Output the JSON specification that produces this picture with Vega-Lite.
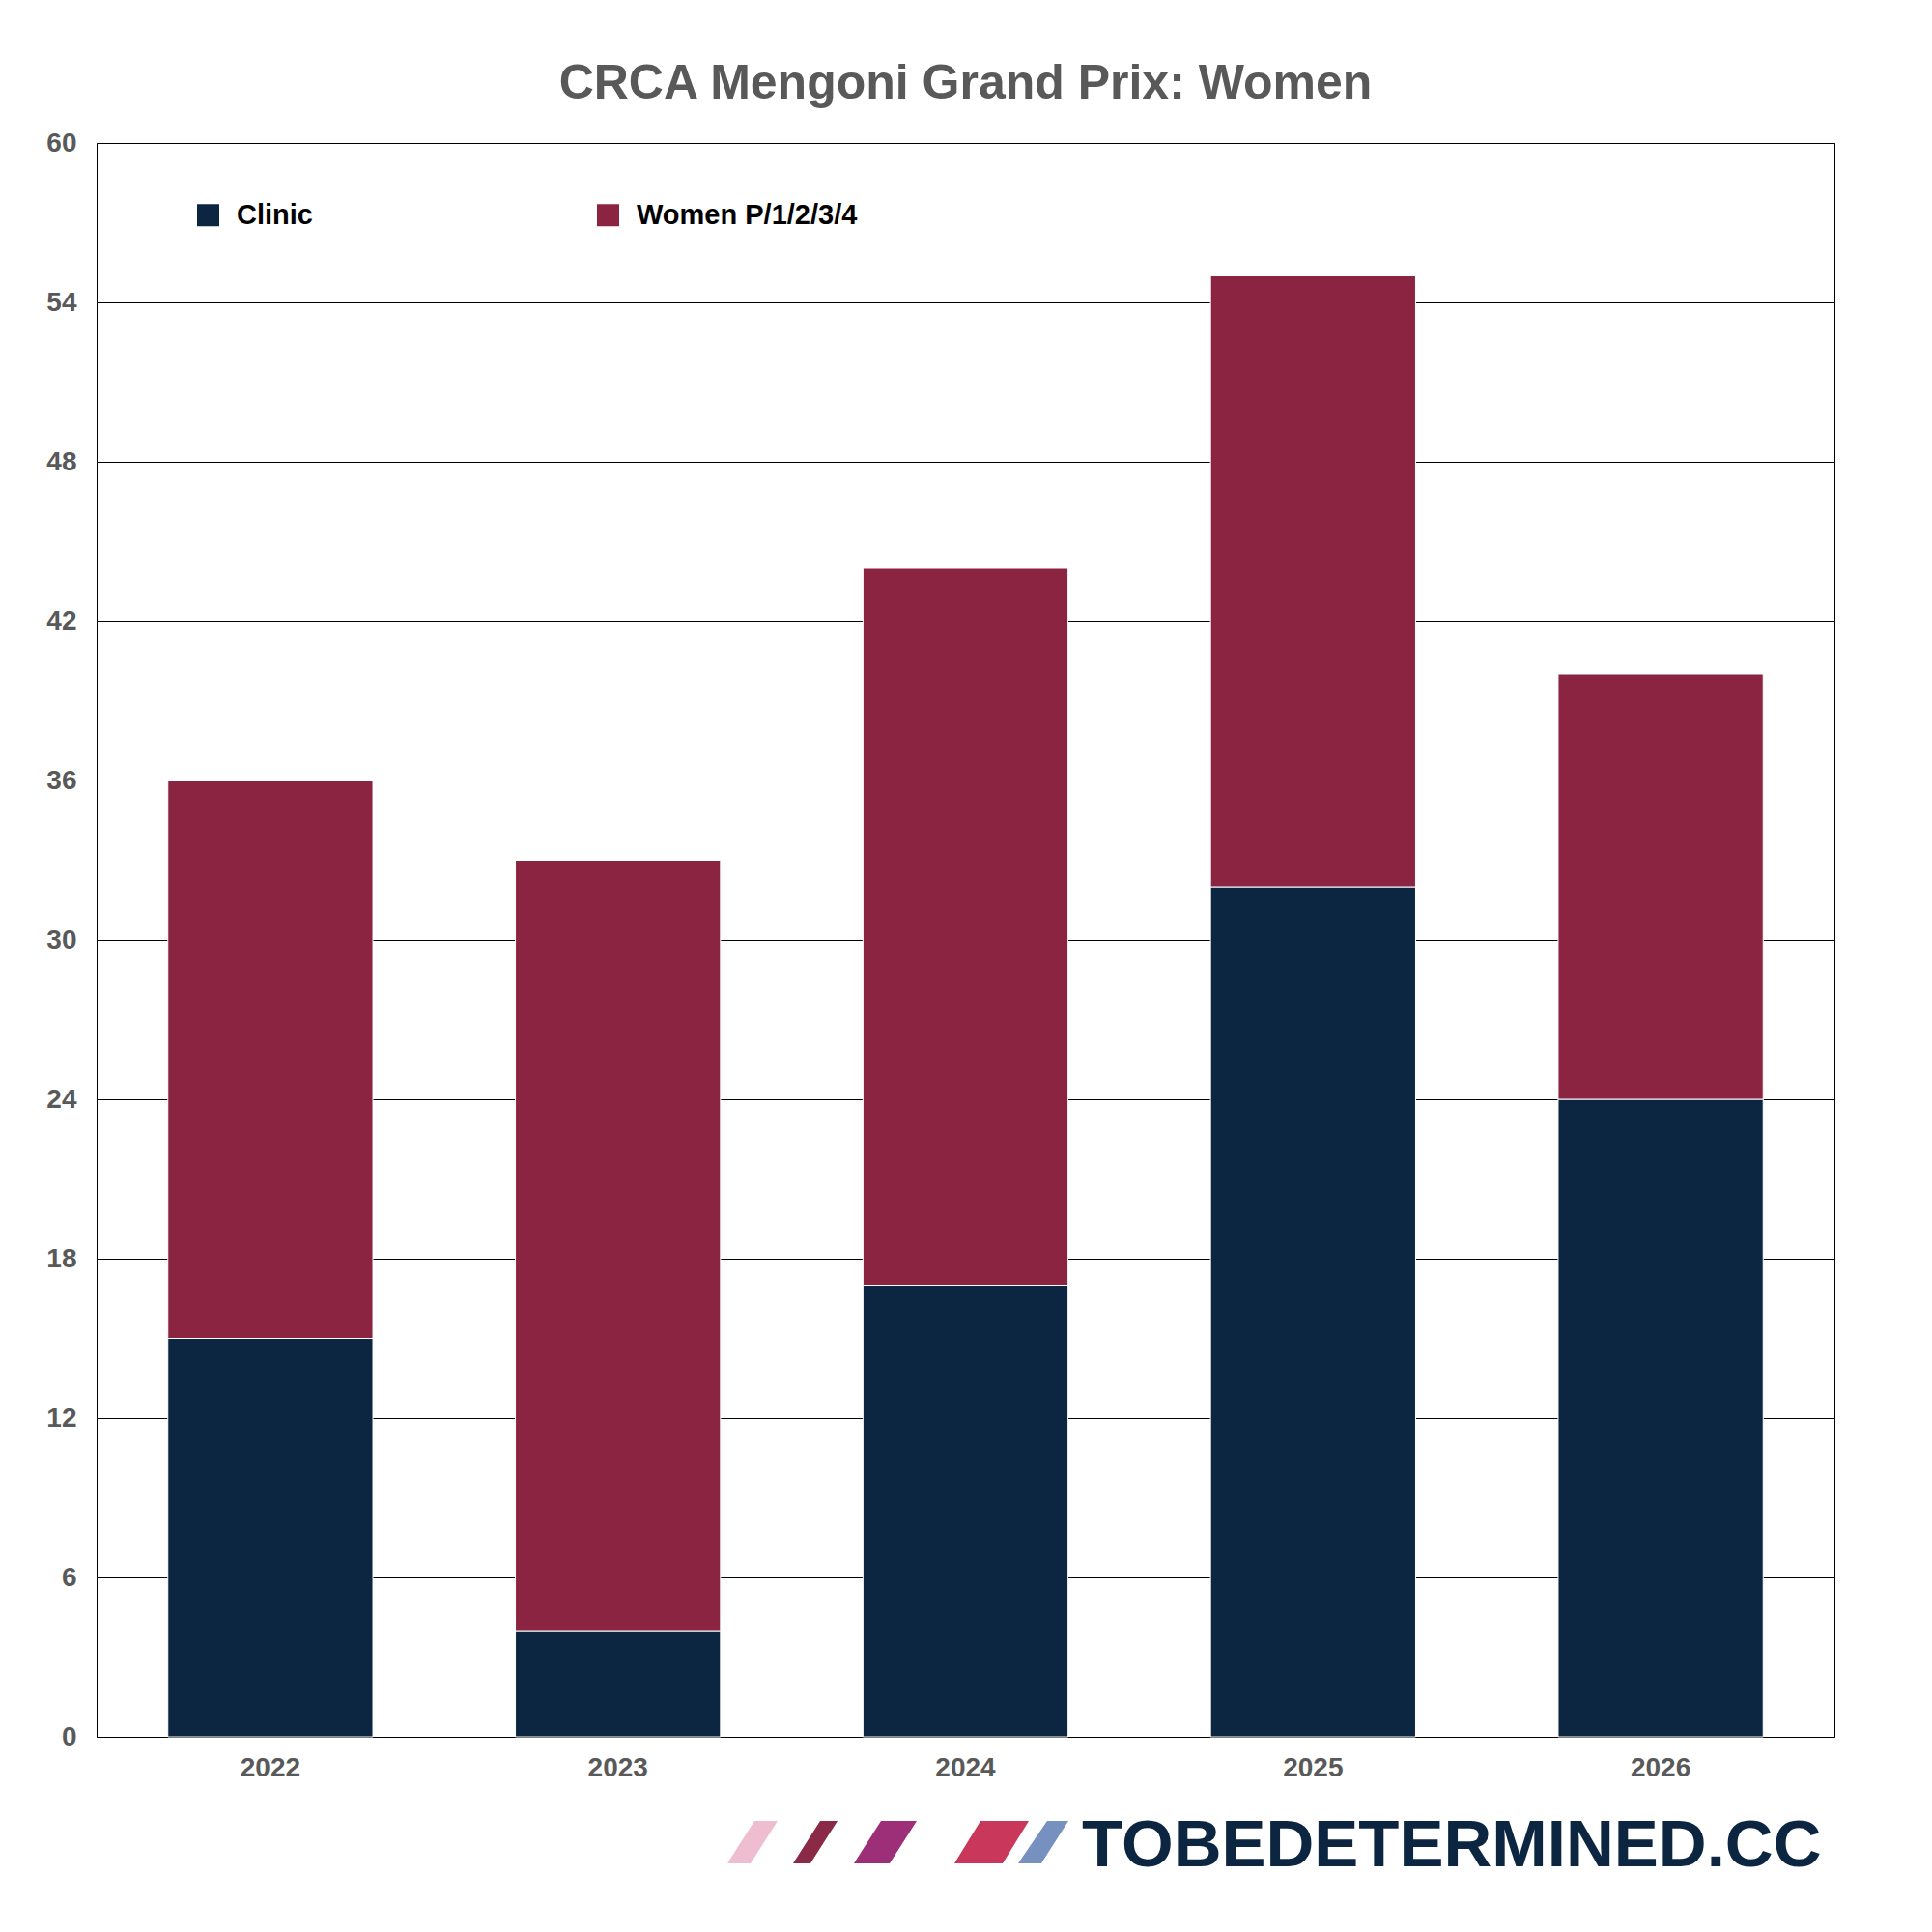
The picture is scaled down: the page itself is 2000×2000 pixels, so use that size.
{
  "$schema": "https://vega.github.io/schema/vega-lite/v6.json",
  "width": 1799,
  "height": 1650,
  "autosize": "none",
  "padding": {"left": 100, "top": 148, "right": 101, "bottom": 202},
  "background": "white",
  "config": {
    "font": "Liberation Sans",
    "view": {"stroke": "#000000", "strokeWidth": 1}
  },
  "title": {
    "text": "CRCA Mengoni Grand Prix: Women",
    "font": "Liberation Sans",
    "fontSize": 50,
    "fontWeight": "bold",
    "color": "#595959",
    "anchor": "middle",
    "frame": "group",
    "offset": 22
  },
  "layer": [
    {
      "data": {
        "values": [
          {"year": "2022", "series": "Clinic", "riders": 15},
          {"year": "2022", "series": "Women P/1/2/3/4", "riders": 21},
          {"year": "2023", "series": "Clinic", "riders": 4},
          {"year": "2023", "series": "Women P/1/2/3/4", "riders": 29},
          {"year": "2024", "series": "Clinic", "riders": 17},
          {"year": "2024", "series": "Women P/1/2/3/4", "riders": 27},
          {"year": "2025", "series": "Clinic", "riders": 32},
          {"year": "2025", "series": "Women P/1/2/3/4", "riders": 23},
          {"year": "2026", "series": "Clinic", "riders": 24},
          {"year": "2026", "series": "Women P/1/2/3/4", "riders": 16}
        ]
      },
      "mark": {"type": "bar", "stroke": "white", "strokeWidth": 1},
      "encoding": {
        "x": {
          "field": "year",
          "type": "nominal",
          "scale": {"paddingInner": 0.41, "paddingOuter": 0.205},
          "axis": {
            "title": "TOBEDETERMINED.CC",
            "titleFont": "Liberation Sans",
            "titleFontSize": 69,
            "titleFontWeight": "bold",
            "titleColor": "#0c2541",
            "titleAlign": "right",
            "titleBaseline": "alphabetic",
            "titleX": 1785,
            "titleY": 133,
            "labelAngle": 0,
            "labelFontSize": 28,
            "labelFontWeight": "bold",
            "labelColor": "#595959",
            "labelPadding": 18,
            "ticks": false,
            "tickSize": 0,
            "domain": false
          }
        },
        "y": {
          "field": "riders",
          "type": "quantitative",
          "stack": "zero",
          "scale": {"domain": [0, 60], "nice": false},
          "axis": {
            "title": null,
            "values": [0, 6, 12, 18, 24, 30, 36, 42, 48, 54, 60],
            "labelFontSize": 28,
            "labelFontWeight": "bold",
            "labelColor": "#595959",
            "labelPadding": 21,
            "ticks": false,
            "tickSize": 0,
            "domain": false,
            "grid": true,
            "gridColor": "#000000",
            "gridWidth": 1,
            "gridOpacity": 1
          }
        },
        "order": {"field": "series", "sort": "ascending"},
        "color": {
          "field": "series",
          "type": "nominal",
          "scale": {"domain": ["Clinic", "Women P/1/2/3/4"], "range": ["#0c2541", "#8b2441"]},
          "legend": {
            "title": null,
            "orient": "none",
            "legendX": 101,
            "legendY": 60,
            "direction": "horizontal",
            "padding": 0,
            "symbolType": "square",
            "symbolSize": 529,
            "symbolStrokeWidth": 0,
            "symbolOpacity": 1,
            "labelFontSize": 29,
            "labelFontWeight": "bold",
            "labelColor": "#000000",
            "labelOffset": 15,
            "labelLimit": 500,
            "columnPadding": 291
          }
        }
      }
    },
    {
      "data": {
        "values": [
          {"stripe": "s1"},
          {"stripe": "s2"},
          {"stripe": "s3"},
          {"stripe": "s4"},
          {"stripe": "s5"}
        ]
      },
      "transform": [{"filter": "false"}],
      "mark": {"type": "point", "filled": true},
      "encoding": {
        "color": {
          "field": "stripe",
          "type": "nominal",
          "scale": {
            "domain": ["s1", "s2", "s3", "s4", "s5"],
            "range": ["#efbdd0", "#8b2a47", "#9c2f78", "#c9385a", "#7690c0"]
          },
          "legend": {
            "title": null,
            "orient": "none",
            "legendX": 618,
            "legendY": 1737,
            "direction": "horizontal",
            "columns": 5,
            "padding": 0,
            "symbolSize": 1936,
            "symbolStrokeWidth": 0,
            "symbolOpacity": 1,
            "labelExpr": "''",
            "labelOffset": 0,
            "labelFontSize": 1,
            "columnPadding": -48
          }
        },
        "shape": {
          "field": "stripe",
          "type": "nominal",
          "scale": {
            "domain": ["s1", "s2", "s3", "s4", "s5"],
            "range": [
              "M-2,0L-2,0M3,0L3,0M0.591,1L1.682,1L2.955,-1L1.864,-1Z",
              "M-2,0L-2,0M3,0L3,0M-0.318,1L0.5,1L1.773,-1L0.955,-1Z",
              "M-2,0L-2,0M3,0L3,0M-1.455,1L0.227,1L1.5,-1L-0.182,-1Z",
              "M-2,0L-2,0M3,0L3,0M-0.727,1L1.545,1L2.773,-1L0.5,-1Z",
              "M-2,0L-2,0M3,0L3,0M-1.728,1L-0.637,1L0.636,-1L-0.364,-1Z"
            ]
          },
          "legend": {
            "title": null,
            "orient": "none",
            "legendX": 618,
            "legendY": 1737,
            "direction": "horizontal",
            "columns": 5,
            "padding": 0,
            "symbolSize": 1936,
            "symbolStrokeWidth": 0,
            "symbolOpacity": 1,
            "labelExpr": "''",
            "labelOffset": 0,
            "labelFontSize": 1,
            "columnPadding": -48
          }
        }
      }
    }
  ],
  "resolve": {"scale": {"color": "independent", "shape": "independent"}}
}
